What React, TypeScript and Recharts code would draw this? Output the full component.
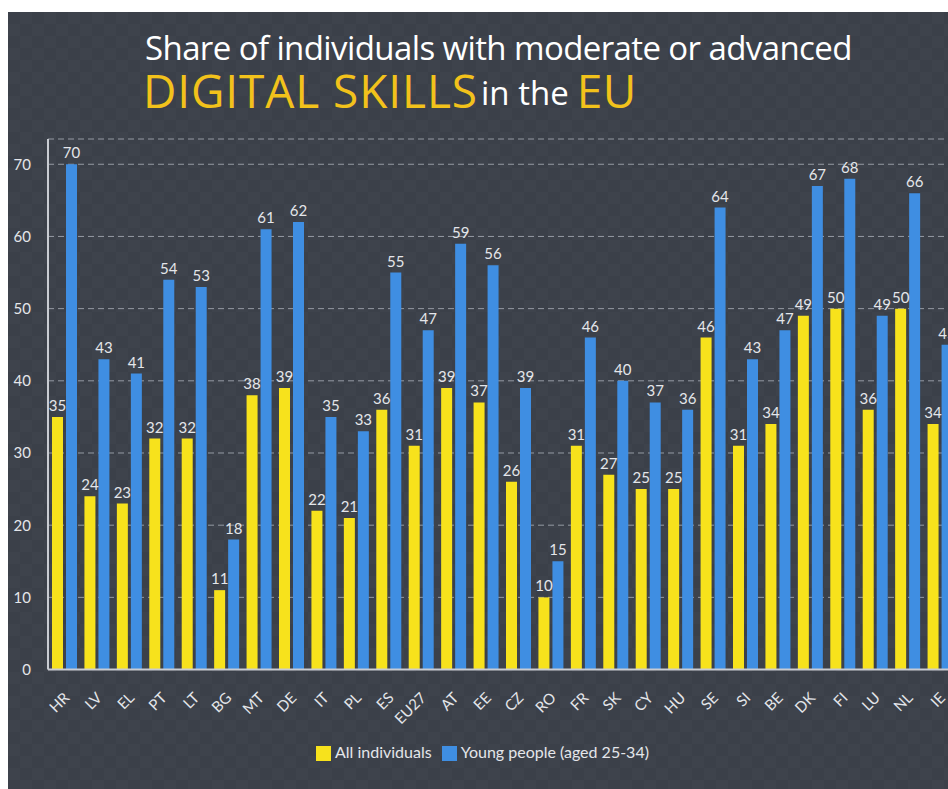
import React from 'react'
import { BarChart, Bar, XAxis, YAxis, CartesianGrid, Legend, LabelList } from 'recharts'

const countries = ['HR', 'LV', 'EL', 'PT', 'LT', 'BG', 'MT', 'DE', 'IT', 'PL', 'ES', 'EU27', 'AT', 'EE', 'CZ', 'RO', 'FR', 'SK', 'CY', 'HU', 'SE', 'SI', 'BE', 'DK', 'FI', 'LU', 'NL', 'IE']
const allIndividuals = [35, 24, 23, 32, 32, 11, 38, 39, 22, 21, 36, 31, 39, 37, 26, 10, 31, 27, 25, 25, 46, 31, 34, 49, 50, 36, 50, 34]
const youngPeople = [70, 43, 41, 54, 53, 18, 61, 62, 35, 33, 55, 47, 59, 56, 39, 15, 46, 40, 37, 36, 64, 43, 47, 67, 68, 49, 66, 45]
const yTicks = [0, 10, 20, 30, 40, 50, 60, 70]

const data = countries.map((c, i) => ({ country: c, all: allIndividuals[i], young: youngPeople[i] }))

const BG = '#3b4049'
const YELLOW = '#f7e21c'
const BLUE = '#3f8ee2'
const GOLD = '#f2c21b'
const TEXT = '#e4e6ea'
const FONT = 'Lato, sans-serif'

function CountryTick(props: any) {
  const { x, y, payload } = props
  return (
    <g transform={`translate(${x + 2},${y + 17})`}>
      <text
        transform="rotate(-45)"
        textAnchor="end"
        dominantBaseline="central"
        fill={TEXT}
        fontSize={15}
        fontFamily={FONT}
      >
        {payload.value}
      </text>
    </g>
  )
}

// title pieces as inline-blocks so their boxes stay inside the line
const titleBit = (color: string, size: number, spacing: number, ml = 0) => ({
  display: 'inline-block',
  lineHeight: '44px',
  height: 44,
  color,
  fontSize: size,
  letterSpacing: spacing,
  marginLeft: ml,
  verticalAlign: 'top',
  overflow: 'visible',
})

export default function App() {
  return (
    <div style={{ background: '#fff', width: 948, height: 789, overflow: 'hidden', paddingTop: 12, paddingLeft: 8, boxSizing: 'border-box' }}>
      <style>{'body{margin:0}'}</style>
      <div
        style={{
          position: 'relative',
          width: 940,
          height: 777,
          backgroundColor: BG,
          backgroundImage: 'repeating-conic-gradient(#3e434c 0% 25%, transparent 0% 50%)',
          backgroundSize: '24px 24px',
          overflow: 'hidden',
          fontFamily: FONT,
        }}
      >
        <div style={{ position: 'absolute', left: 137, top: 18, color: '#fff', fontSize: 33, lineHeight: '36px', height: 36, fontFamily: '"Open Sans", sans-serif', whiteSpace: 'nowrap', letterSpacing: -0.6 }}>
          Share of individuals with moderate or advanced
        </div>
        <div style={{ position: 'absolute', left: 135, top: 56, height: 44, lineHeight: '44px', whiteSpace: 'nowrap', fontFamily: '"Open Sans", sans-serif' }}>
          <span style={titleBit(GOLD, 46, 0.9)}>DIGITAL SKILLS</span>
          <span style={{ ...titleBit('#fff', 33, 0, 3), lineHeight: '50px' }}>in the</span>
          <span style={titleBit(GOLD, 46, 0.5, 8)}>EU</span>
        </div>
        <BarChart
          width={962}
          height={777}
          data={data}
          margin={{ top: 127, right: 14, left: 0, bottom: 38 }}
          barGap={3}
          barSize={11}
          style={{ position: 'absolute', left: 0, top: 0 }}
        >
          <CartesianGrid
            horizontal
            vertical={false}
            stroke="#959aa3"
            strokeDasharray="6 4"
          />
          <YAxis
            domain={[0, 73.5]}
            ticks={yTicks}
            width={40}
            tick={{ fill: TEXT, fontSize: 15, fontFamily: FONT, dx: -9 }}
            tickLine={false}
            axisLine={{ stroke: '#c9ccd2', strokeWidth: 2 }}
          />
          <XAxis
            dataKey="country"
            interval={0}
            height={62}
            tick={<CountryTick />}
            tickLine={false}
            axisLine={{ stroke: '#c9ccd2', strokeWidth: 2 }}
          />
          <Legend
            verticalAlign="bottom"
            align="left"
            iconType="square"
            iconSize={15}
            wrapperStyle={{ left: 308, bottom: 28, width: 440, fontFamily: FONT, fontSize: 16 }}
            formatter={(v) => <span style={{ color: TEXT, fontSize: 16 }}>{v}</span>}
          />
          <Bar dataKey="all" name="All individuals" fill={YELLOW} isAnimationActive={false}>
            <LabelList dataKey="all" position="top" offset={6} fill={TEXT} fontSize={15} fontFamily={FONT} />
          </Bar>
          <Bar dataKey="young" name="Young people (aged 25-34)" fill={BLUE} isAnimationActive={false}>
            <LabelList dataKey="young" position="top" offset={6} fill={TEXT} fontSize={15} fontFamily={FONT} />
          </Bar>
        </BarChart>
      </div>
    </div>
  )
}
